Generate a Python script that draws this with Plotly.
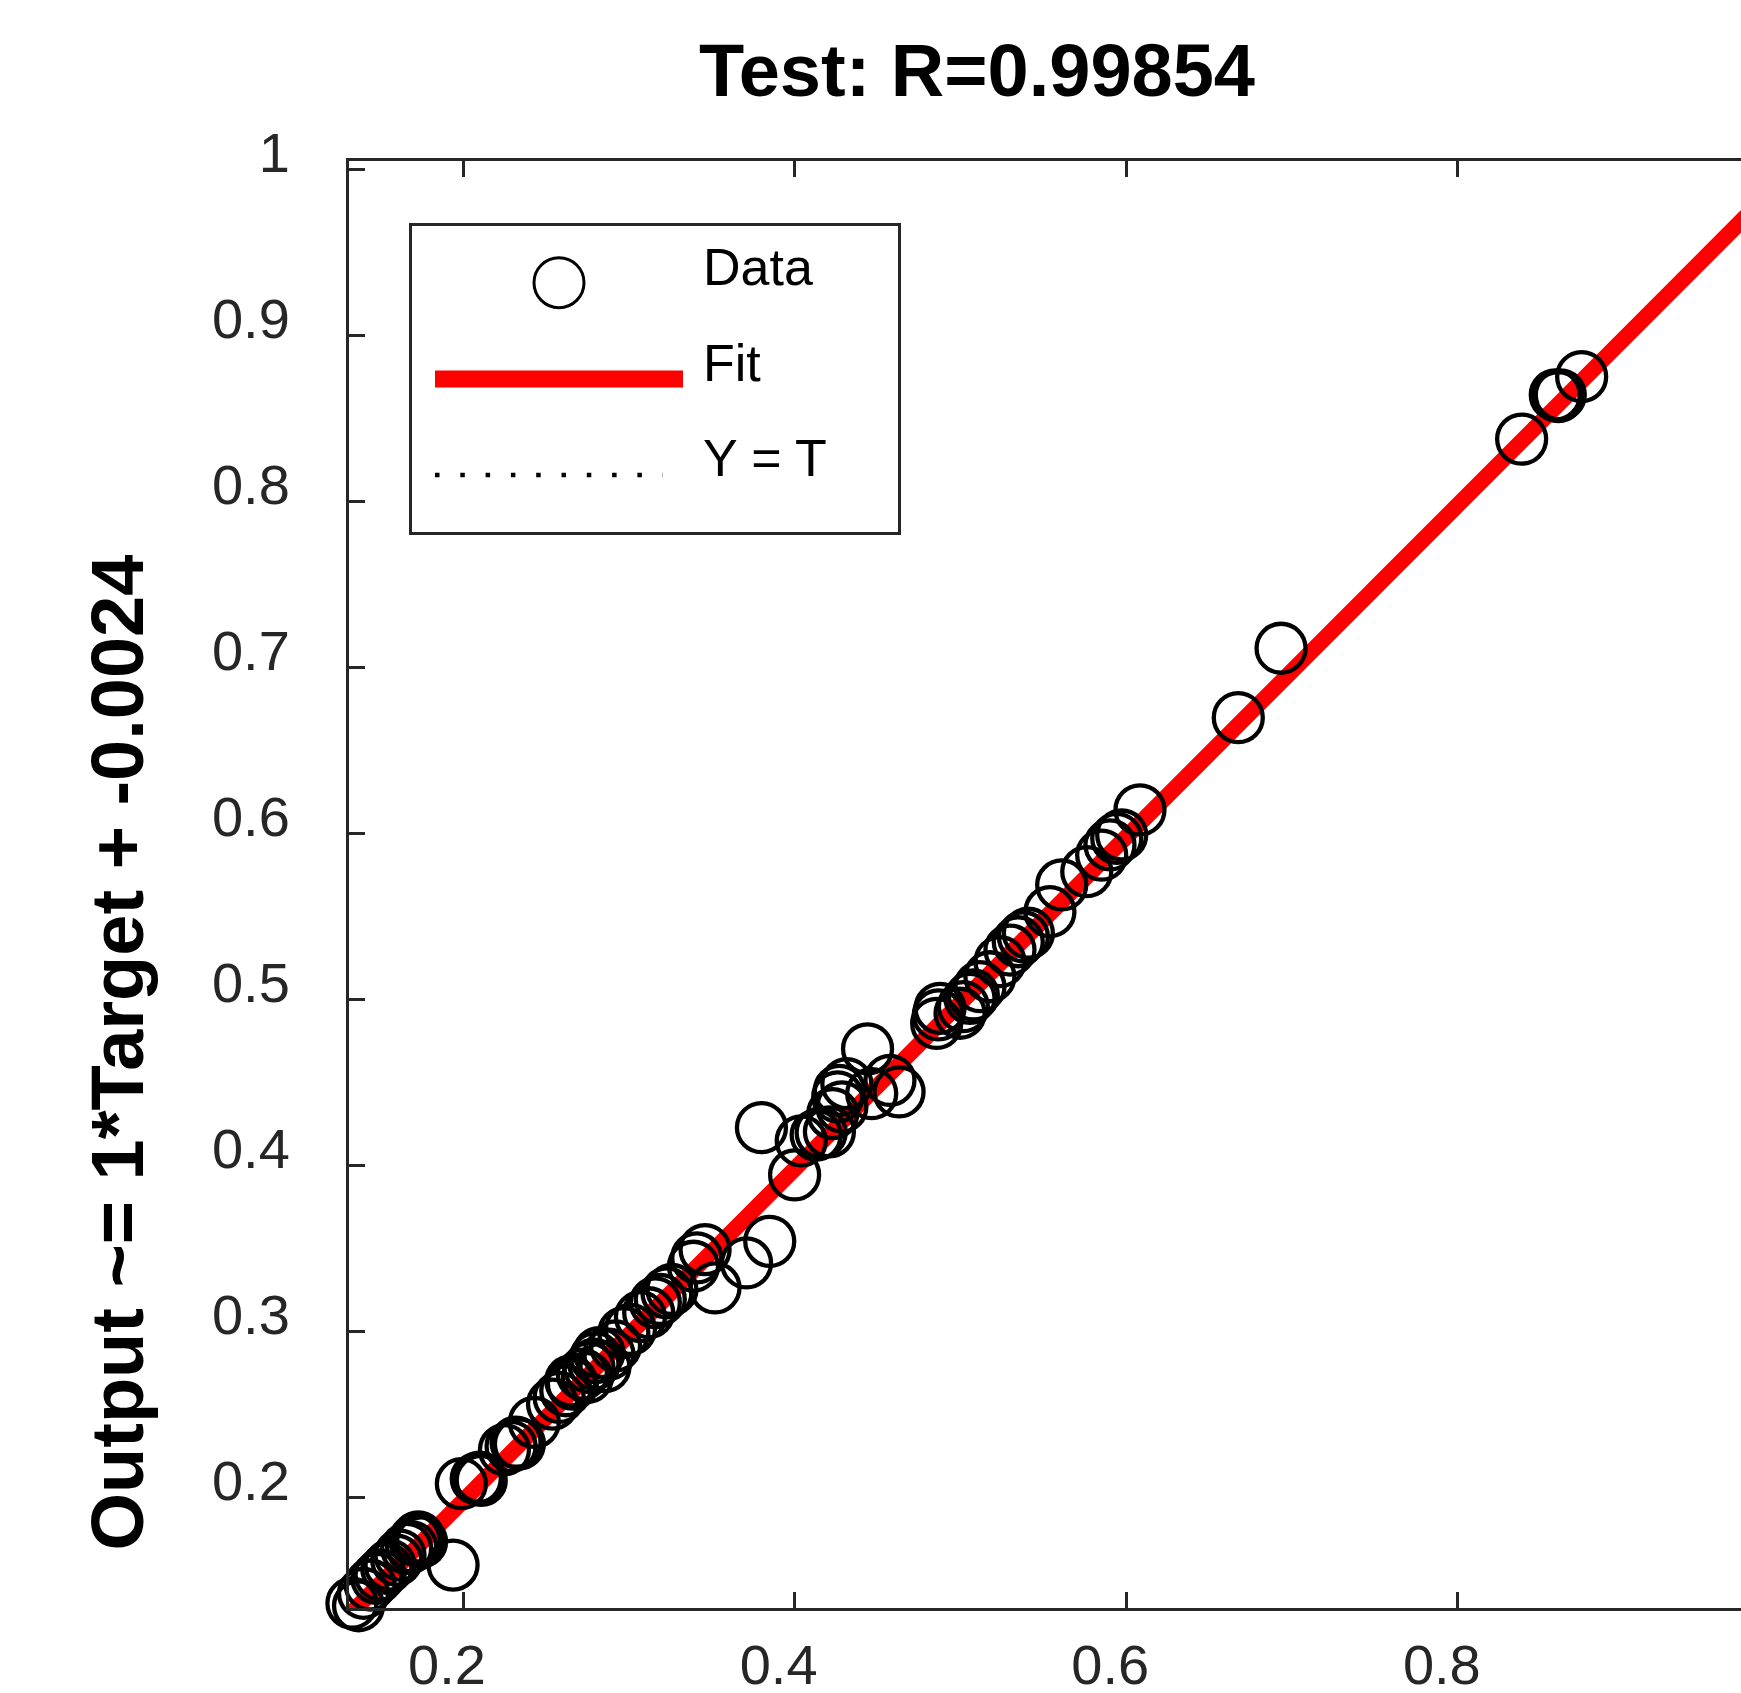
import plotly.graph_objects as go

# ---- data -----------------------------------------------------------------
title_text = "Test: R=0.99854"
ylabel_text = "Output ~= 1*Target + -0.0024"

fit_slope = 1.0
fit_offset = -0.0024

# regression limits (same for target and output)
reg_lo = 0.1312
reg_hi = 1.006

target = [
    0.1330, 0.1370, 0.1400, 0.1440, 0.1480, 0.1500, 0.1540, 0.1560, 0.1600, 0.1620,
    0.1660, 0.1690, 0.1710, 0.1720, 0.1730, 0.1740, 0.1750, 0.1940, 0.1990, 0.2080,
    0.2100, 0.2110, 0.2250, 0.2290, 0.2320, 0.2340, 0.2430, 0.2540, 0.2580, 0.2620,
    0.2650, 0.2660, 0.2720, 0.2750, 0.2760, 0.2790, 0.2800, 0.2820, 0.2856, 0.2880,
    0.2920, 0.2970, 0.3010, 0.3070, 0.3120, 0.3160, 0.3190, 0.3230, 0.3260, 0.3390,
    0.3410, 0.3460, 0.3520, 0.3710, 0.3850, 0.3800, 0.4000, 0.4040, 0.4130, 0.4160,
    0.4210, 0.4230, 0.4260, 0.4270, 0.4285, 0.4315, 0.4440, 0.4465, 0.4575, 0.4630,
    0.4857, 0.4867, 0.4877, 0.4998, 0.5018, 0.5058, 0.5078, 0.5118, 0.5178, 0.5239,
    0.5299, 0.5349, 0.5380, 0.5410, 0.5540, 0.5611, 0.5762, 0.5852, 0.5902, 0.5943,
    0.5973, 0.6083, 0.6676, 0.6934, 0.8385, 0.8588, 0.8606, 0.8618, 0.8747,
]
output = [
    0.1360, 0.1345, 0.1420, 0.1470, 0.1510, 0.1530, 0.1570, 0.1590, 0.1620, 0.1650,
    0.1690, 0.1700, 0.1740, 0.1750, 0.1760, 0.1740, 0.1730, 0.1590, 0.2080, 0.2110,
    0.2120, 0.2100, 0.2285, 0.2305, 0.2330, 0.2320, 0.2450, 0.2560, 0.2600, 0.2640,
    0.2700, 0.2680, 0.2740, 0.2720, 0.2780, 0.2800, 0.2840, 0.2870, 0.2785, 0.2860,
    0.2910, 0.2990, 0.3010, 0.3086, 0.3110, 0.3170, 0.3190, 0.3230, 0.3250, 0.3390,
    0.3440, 0.3490, 0.3260, 0.3410, 0.3540, 0.4225, 0.3940, 0.4145, 0.4180, 0.4195,
    0.4200, 0.4310, 0.4410, 0.4450, 0.4350, 0.4490, 0.4700, 0.4430, 0.4510, 0.4440,
    0.4853, 0.4904, 0.4944, 0.4914, 0.4954, 0.5004, 0.5024, 0.5074, 0.5134, 0.5225,
    0.5295, 0.5345, 0.5375, 0.5396, 0.5526, 0.5687, 0.5767, 0.5867, 0.5928, 0.5968,
    0.5988, 0.6139, 0.6695, 0.7113, 0.8373, 0.8639, 0.8629, 0.8639, 0.8749,
]

x_ticks = [0.2, 0.4, 0.6, 0.8]
x_ticklabels = ["0.2", "0.4", "0.6", "0.8"]
y_ticks = [0.2, 0.3, 0.4, 0.5, 0.6, 0.7, 0.8, 0.9, 1.0]
y_ticklabels = ["0.2", "0.3", "0.4", "0.5", "0.6", "0.7", "0.8", "0.9", "1"]

legend_labels = ["Data", "Fit", "Y = T"]

# ---- page geometry (pixels) ----------------------------------------------
W, H = 1741, 1693
L, R, T, B = 349, 1741, 161, 1608          # plot area edges
x_view = [0.13124, 0.97081]                # visible target window
y_view = [0.13313, 1.00482]

AX = "#262626"
FONT = "Liberation Sans, Arial, Helvetica, sans-serif"


def px(xp):
    return (xp - L) / (R - L)


def py(yp):
    return (B - yp) / (B - T)


fig = go.Figure()

# identity line Y = T
fig.add_trace(go.Scatter(
    x=[reg_lo, reg_hi], y=[reg_lo, reg_hi], mode="lines",
    line=dict(color="black", width=2, dash="dot"), showlegend=False,
    hoverinfo="skip"))

# linear fit
fig.add_trace(go.Scatter(
    x=[reg_lo, reg_hi],
    y=[fit_slope * reg_lo + fit_offset, fit_slope * reg_hi + fit_offset],
    mode="lines", line=dict(color="#ff0000", width=16), showlegend=False,
    hoverinfo="skip"))

# data circles
fig.add_trace(go.Scatter(
    x=target, y=output, mode="markers",
    marker=dict(symbol="circle-open", size=49, color="black",
                line=dict(width=4.3, color="black")),
    cliponaxis=False, showlegend=False))

# ---- hand-drawn legend box ------------------------------------------------
shapes = [
    dict(type="rect", xref="paper", yref="paper",
         x0=px(410.5), x1=px(899.5), y0=py(224.5), y1=py(533.5),
         line=dict(color=AX, width=3), fillcolor="white", layer="above"),
    dict(type="circle", xref="paper", yref="paper",
         xsizemode="pixel", ysizemode="pixel",
         xanchor=px(559), yanchor=py(282.7),
         x0=-25, x1=25, y0=-25, y1=25,
         line=dict(color="black", width=3), layer="above"),
    dict(type="line", xref="paper", yref="paper",
         x0=px(435), x1=px(683), y0=py(379), y1=py(379),
         line=dict(color="#ff0000", width=17), layer="above"),
    dict(type="line", xref="paper", yref="paper",
         x0=px(435), x1=px(663), y0=py(475), y1=py(475),
         line=dict(color="black", width=4.5, dash="4.5px,20.8px"), layer="above"),
]

annotations = []
for label, yc in zip(legend_labels, [267, 363.3, 458.3]):
    annotations.append(dict(
        text=label, xref="paper", yref="paper", x=px(701), y=py(yc),
        xanchor="left", yanchor="middle", showarrow=False,
        font=dict(family=FONT, size=52, color="black")))

# y-axis label
annotations.append(dict(
    text="<b>" + ylabel_text + "</b>", xref="paper", yref="paper",
    x=px(116.5), y=py(1053), xanchor="center", yanchor="middle",
    textangle=-90, showarrow=False,
    font=dict(family=FONT, size=74, color="black")))

# title
annotations.append(dict(
    text="<b>" + title_text + "</b>", xref="paper", yref="paper",
    x=px(977), y=py(70), xanchor="center", yanchor="middle",
    showarrow=False, font=dict(family=FONT, size=74, color="black")))

fig.update_layout(
    width=W, height=H,
    margin=dict(l=L, r=W - R, t=T, b=H - B, pad=0, autoexpand=False),
    paper_bgcolor="white", plot_bgcolor="white",
    shapes=shapes, annotations=annotations,
    showlegend=False,
)

fig.update_xaxes(
    range=x_view, tickvals=x_ticks, ticktext=x_ticklabels,
    showgrid=False, zeroline=False, automargin=False,
    showline=True, linecolor=AX, linewidth=3, mirror="ticks",
    ticks="inside", ticklen=16, tickwidth=3, tickcolor=AX,
    tickfont=dict(family=FONT, size=56, color=AX),
    ticklabelstandoff=6, ticklabelshift=-16,
)
fig.update_yaxes(
    range=y_view, tickvals=y_ticks, ticktext=y_ticklabels,
    showgrid=False, zeroline=False, automargin=False,
    showline=True, linecolor=AX, linewidth=3, mirror=False,
    ticks="inside", ticklen=16, tickwidth=3, tickcolor=AX,
    tickfont=dict(family=FONT, size=56, color=AX),
    ticklabelstandoff=45, ticklabelshift=-17,
)

fig.write_html("out.html")
